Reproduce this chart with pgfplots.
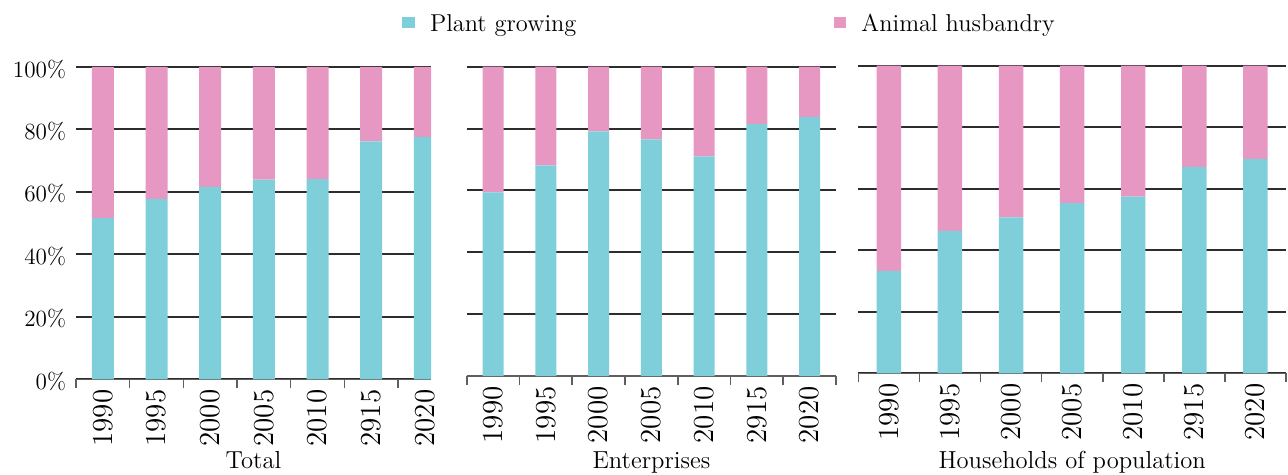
\documentclass[border=0pt]{standalone}
\usepackage{pgfplots}
\pgfplotsset{compat=1.18}
\definecolor{plant}{RGB}{126,207,218}
\definecolor{animal}{RGB}{230,152,194}
\definecolor{gridc}{RGB}{45,45,45}
\definecolor{axisc}{RGB}{95,95,95}
\tikzset{
  panellabel/.style={anchor=base, inner sep=0pt, font=\fontsize{12.3}{14}\selectfont},
}
\pgfplotsset{
  panel/.style={
    scale only axis,
    anchor=south west,
    ybar stacked,
    bar width=0.41,
    ymin=0, ymax=100,
    xmin=-0.5,
    xtick={0,...,6},
    xticklabels={1990,1995,2000,2005,2010,2915,2020},
    minor xtick={-0.5,0.5,...,6.5},
    ytick={0,20,...,100},
    axis lines*=left,
    y axis line style={draw=none},
    x axis line style={draw=axisc, line width=0.8pt},
    tick align=outside,
    major tick length=0pt,
    minor tick length=4.5pt,
    minor tick style={draw=axisc, line width=0.8pt},
    ytick style={draw=none},
    ymajorgrids,
    major grid style={draw=gridc, line width=1pt},
    /pgf/number format/assume math mode=true,
    y tick label style={font=\fontsize{11.6}{14}\selectfont},
    x tick label style={font=\fontsize{14.5}{16}\selectfont,
      rotate=90, anchor=east, inner sep=2pt, xshift=-3pt},
  },
  plantbar/.style={fill=plant, draw=none,
    legend image code/.code={\fill[plant] (0pt,-1.9pt) rectangle (6.3pt,3.8pt);}},
  animalbar/.style={fill=animal, draw=none,
    legend image code/.code={\fill[animal] (0pt,-1.9pt) rectangle (6.3pt,3.8pt);}},
}

\begin{document}
\begin{tikzpicture}
  % Total
  \begin{axis}[panel,
    at={(38pt,-189.65pt)}, width=177.5pt, height=156.15pt,
    xmax=6.115,
    yticklabel={\pgfmathprintnumber{\tick}\%},
    y tick label style={xshift=-1.5pt, yshift=-1pt}]
    \addplot[plantbar] coordinates {(0,51.6) (1,57.8) (2,61.6) (3,63.9) (4,64.1) (5,76.2) (6,77.6)};
    \addplot[animalbar] coordinates {(0,48.4) (1,42.2) (2,38.4) (3,36.1) (4,35.9) (5,23.8) (6,22.4)};
  \end{axis}
  % Enterprises
  \begin{axis}[panel,
    at={(233.35pt,-188pt)}, width=184.65pt, height=154.65pt,
    xmax=6.5, bar width=0.40,
    yticklabels={},
    legend columns=2,
    legend style={draw=none, fill=none, inner sep=0pt,
      font=\fontsize{12.2}{14}\selectfont,
      at={(-0.1752,1.137)}, anchor=west,
      /tikz/column 1/.style={column sep=5.5pt},
      /tikz/column 2/.style={column sep=126.75pt},
      /tikz/column 3/.style={column sep=5.5pt}}]
    \addplot[plantbar] coordinates {(0,59.4) (1,68.1) (2,79.1) (3,76.5) (4,71.0) (5,81.4) (6,83.7)};
    \addlegendentry{Plant growing}
    \addplot[animalbar] coordinates {(0,40.6) (1,31.9) (2,20.9) (3,23.5) (4,29.0) (5,18.6) (6,16.3)};
    \addlegendentry{Animal husbandry}
  \end{axis}
  % Households of population
  \begin{axis}[panel,
    at={(429.15pt,-186.65pt)}, width=213.85pt, height=153.8pt,
    xmax=6.5, bar width=0.40,
    yticklabels={}]
    \addplot[plantbar] coordinates {(0,33.3) (1,46.3) (2,50.7) (3,55.3) (4,57.4) (5,67.1) (6,69.7)};
    \addplot[animalbar] coordinates {(0,66.7) (1,53.7) (2,49.3) (3,44.7) (4,42.6) (5,32.9) (6,30.3)};
  \end{axis}
  % panel titles under the year labels
  \node[panellabel] at (126.75pt,-234.4pt) {Total};
  \node[panellabel] at (325.7pt,-234.4pt) {Enterprises};
  \node[panellabel] at (536.1pt,-234.4pt) {Households of population};
  \pgfresetboundingbox
  \path[use as bounding box] (0pt,0pt) rectangle (644pt,-237.5pt);
\end{tikzpicture}
\end{document}
